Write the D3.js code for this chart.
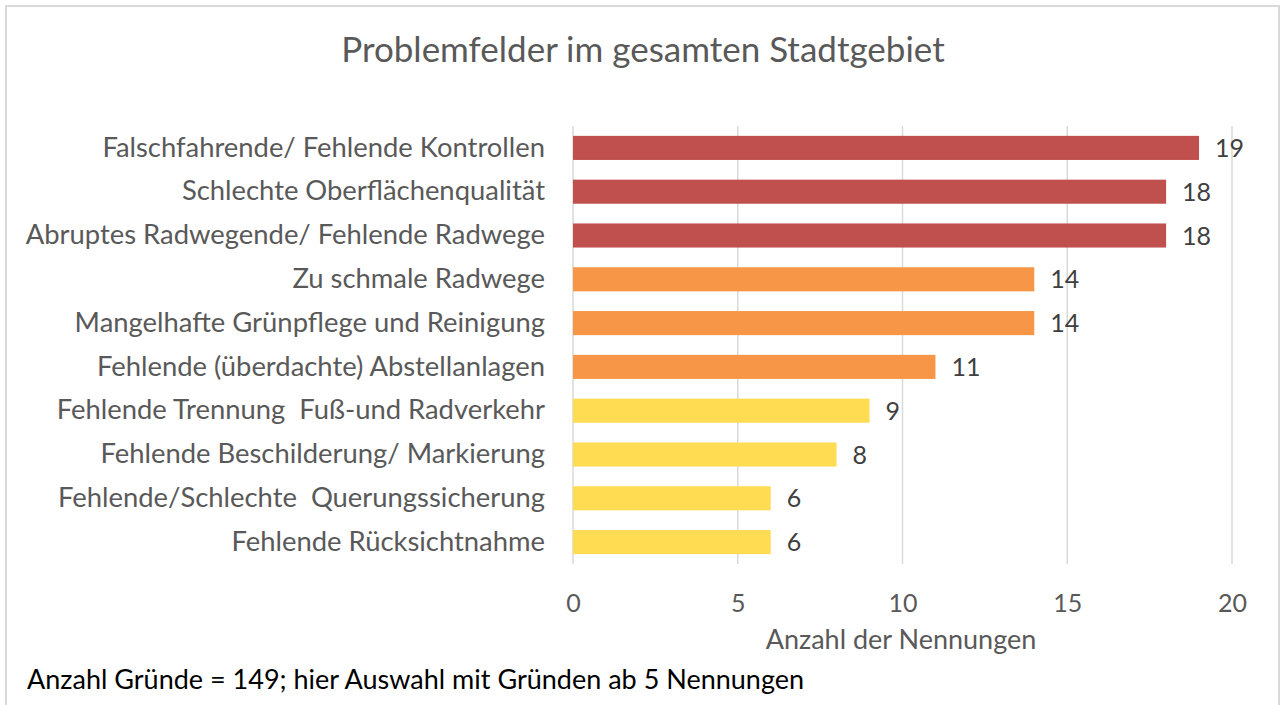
<!DOCTYPE html>
<html>
<head>
<meta charset="utf-8">
<script src="https://cdn.jsdelivr.net/npm/d3@7"></script>
<style>
  body { margin: 0; background: #fff; }
  svg { display: block; }
  text { font-family: Lato, "Open Sans", sans-serif; white-space: pre; }
</style>
</head>
<body>
<div id="chart"></div>
<script>
// data
var categories = [
    "Falschfahrende/ Fehlende Kontrollen",
    "Schlechte Oberflächenqualität",
    "Abruptes Radwegende/ Fehlende Radwege",
    "Zu schmale Radwege",
    "Mangelhafte Grünpflege und Reinigung",
    "Fehlende (überdachte) Abstellanlagen",
    "Fehlende Trennung  Fuß-und Radverkehr",
    "Fehlende Beschilderung/ Markierung",
    "Fehlende/Schlechte  Querungssicherung",
    "Fehlende Rücksichtnahme"
];
var counts = [19, 18, 18, 14, 14, 11, 9, 8, 6, 6];
var groups = ["hoch", "hoch", "hoch", "mittel", "mittel", "mittel", "niedrig", "niedrig", "niedrig", "niedrig"];
var groupColors = { hoch: "#C0504D", mittel: "#F79646", niedrig: "#FFDC52" };
var xTicks = [0, 5, 10, 15, 20];

var width = 1285,
    height = 705,
    margin = {top: 126, right: 53, bottom: 141, left: 573};

var svg = d3.select("#chart")
    .append("svg")
    .attr("width", width)
    .attr("height", height);

// outer frame
svg.append("rect")
    .attr("x", 6).attr("y", 6)
    .attr("width", width - 12).attr("height", height + 10)
    .attr("fill", "none")
    .attr("stroke", "#D9D9D9")
    .attr("stroke-width", 2);

var x = d3.scaleLinear()
    .domain([0, 20])
    .range([margin.left, width - margin.right]);

var y = d3.scaleBand()
    .domain(categories)
    .range([margin.top, height - margin.bottom])
    .paddingInner(0.45)
    .paddingOuter(0.225);

// gridlines
svg.append("g")
    .selectAll("line")
    .data(xTicks).enter()
    .append("line")
    .attr("x1", function(d) { return x(d); })
    .attr("x2", function(d) { return x(d); })
    .attr("y1", margin.top)
    .attr("y2", height - margin.bottom)
    .attr("stroke", "#D9D9D9")
    .attr("stroke-width", 1.5);

// x axis labels
var xAxis = d3.axisBottom(x).tickValues(xTicks).tickSize(0).tickPadding(0);
var gx = svg.append("g")
    .attr("transform", "translate(0," + 612 + ")")
    .call(xAxis);
gx.select(".domain").remove();
gx.selectAll("text")
    .attr("dy", 0)
    .attr("font-size", "25px")
    .attr("fill", "#595959")
    .attr("font-family", "Lato, sans-serif");

// y axis labels
var yAxis = d3.axisLeft(y).tickSize(0).tickPadding(28);
var gy = svg.append("g")
    .attr("transform", "translate(" + margin.left + ",0)")
    .call(yAxis);
gy.select(".domain").remove();
gy.selectAll("text")
    .attr("font-size", "27.4px")
    .attr("fill", "#595959")
    .attr("font-family", "Lato, sans-serif");

// bars
svg.append("g")
    .selectAll("rect")
    .data(categories).enter()
    .append("rect")
    .attr("x", x(0))
    .attr("y", function(d) { return y(d); })
    .attr("width", function(d, i) { return x(counts[i]) - x(0); })
    .attr("height", y.bandwidth())
    .attr("fill", function(d, i) { return groupColors[groups[i]]; });

// value labels
svg.append("g")
    .selectAll("text")
    .data(categories).enter()
    .append("text")
    .text(function(d, i) { return counts[i]; })
    .attr("x", function(d, i) { return x(counts[i]) + 16; })
    .attr("y", function(d) { return y(d) + y.bandwidth() / 2; })
    .attr("dy", "0.36em")
    .attr("font-size", "25px")
    .attr("fill", "#404040");

// title
svg.append("text")
    .text("Problemfelder im gesamten Stadtgebiet")
    .attr("x", 643)
    .attr("y", 62)
    .attr("text-anchor", "middle")
    .attr("font-size", "35px")
    .attr("fill", "#595959");

// axis title
svg.append("text")
    .text("Anzahl der Nennungen")
    .attr("x", 901)
    .attr("y", 649)
    .attr("text-anchor", "middle")
    .attr("font-size", "27px")
    .attr("fill", "#595959");

// footnote
svg.append("text")
    .text("Anzahl Gründe = 149; hier Auswahl mit Gründen ab 5 Nennungen")
    .attr("x", 27)
    .attr("y", 689)
    .attr("font-size", "27px")
    .attr("fill", "#000");
</script>
</body>
</html>
